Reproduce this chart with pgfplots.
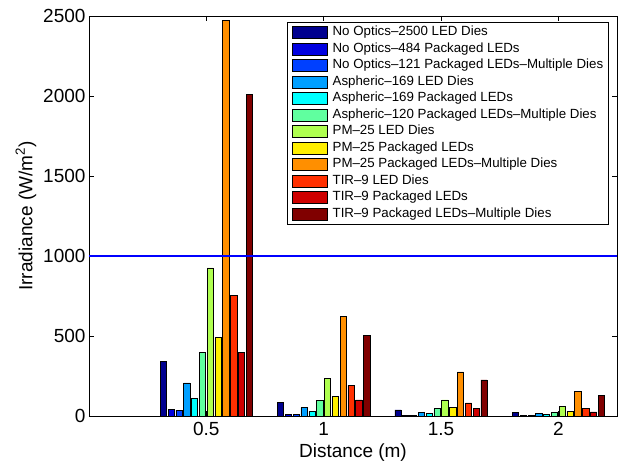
\documentclass[border=0pt]{standalone}
\usepackage{fontspec}
\setmainfont{Liberation Sans}
\usepackage{pgfplots}
\pgfplotsset{compat=1.18}
\definecolor{c1}{rgb}{0,0,0.5625}
\definecolor{c2}{rgb}{0,0,0.875}
\definecolor{c3}{rgb}{0,0.25,1}
\definecolor{c4}{rgb}{0,0.625,1}
\definecolor{c5}{rgb}{0,1,1}
\definecolor{c6}{rgb}{0.375,1,0.625}
\definecolor{c7}{rgb}{0.6875,1,0.3125}
\definecolor{c8}{rgb}{1,0.9375,0}
\definecolor{c9}{rgb}{1,0.5625,0}
\definecolor{c10}{rgb}{1,0.1875,0}
\definecolor{c11}{rgb}{0.8125,0,0}
\definecolor{c12}{rgb}{0.5,0,0}
\pgfplotsset{mybar/.style={fill=#1, draw=black, line width=0.6bp,
  legend image code/.code={\draw[fill=#1,draw=black,line width=0.6bp] (0bp,-5.8bp) rectangle (35bp,5.8bp); \path (39bp,0bp);}}}
\begin{document}
\begin{tikzpicture}
\begin{axis}[
  scale only axis, width=528bp, height=400bp,
  xmin=0, xmax=2.25, ymin=0, ymax=2500,
  ybar, bar width=0.026667,
  xtick={0.5,1,1.5,2}, ytick={0,500,1000,1500,2000,2500},
  xticklabels={0.5,1,1.5,2},
  scaled y ticks=false,
  /pgf/number format/1000 sep={},
  tick align=inside, major tick length=5bp,
  tick style={black, line width=0.6bp},
  axis line style={line width=0.8bp},
  /pgf/number format/assume math mode=true,
  ticklabel style={font=\fontsize{19bp}{22bp}\selectfont},
  xticklabel style={yshift=-3bp},
  label style={font=\fontsize{19bp}{22bp}\selectfont},
  xlabel={Distance (m)}, ylabel={Irradiance (W/m\textsuperscript{2})},
  xlabel style={yshift=-1bp},
  legend cell align=left,
  legend style={at={(1,1)}, anchor=north east, xshift=-8bp, yshift=-6bp,
    draw=black, line width=0.6bp, font=\fontsize{13.3bp}{16bp}\selectfont,
    row sep=0bp, inner xsep=4bp, inner ysep=2bp,
    nodes={inner sep=1.5bp, text height=10bp, text depth=3.5bp}},
]
\addplot[mybar=c1, bar shift=-0.183333] coordinates {(0.5,340) (1,85) (1.5,38) (2,22)};
\addplot[mybar=c2, bar shift=-0.15] coordinates {(0.5,42) (1,10) (1.5,3) (2,3)};
\addplot[mybar=c3, bar shift=-0.116667] coordinates {(0.5,36) (1,8) (1.5,3) (2,3)};
\addplot[mybar=c4, bar shift=-0.083333] coordinates {(0.5,207) (1,52) (1.5,20) (2,16)};
\addplot[mybar=c5, bar shift=-0.05] coordinates {(0.5,109) (1,27) (1.5,14) (2,10)};
\addplot[mybar=c6, bar shift=-0.016667] coordinates {(0.5,395) (1,98) (1.5,45) (2,24)};
\addplot[mybar=c7, bar shift=0.016667] coordinates {(0.5,925) (1,235) (1.5,101) (2,61)};
\addplot[mybar=c8, bar shift=0.05] coordinates {(0.5,490) (1,122) (1.5,52) (2,30)};
\addplot[mybar=c9, bar shift=0.083333] coordinates {(0.5,2470) (1,620) (1.5,275) (2,155)};
\addplot[mybar=c10, bar shift=0.116667] coordinates {(0.5,755) (1,191) (1.5,82) (2,47)};
\addplot[mybar=c11, bar shift=0.15] coordinates {(0.5,398) (1,100) (1.5,46) (2,25)};
\addplot[mybar=c12, bar shift=0.183333] coordinates {(0.5,2010) (1,506) (1.5,225) (2,130)};
\addplot[sharp plot, blue, line width=2.5bp, forget plot] coordinates {(0,1000) (2.25,1000)};
\legend{No Optics--2500 LED Dies, No Optics--484 Packaged LEDs, No Optics--121 Packaged LEDs--Multiple Dies, Aspheric--169 LED Dies, Aspheric--169 Packaged LEDs, Aspheric--120 Packaged LEDs--Multiple Dies, PM--25 LED Dies, PM--25 Packaged LEDs, PM--25 Packaged LEDs--Multiple Dies, TIR--9 LED Dies, TIR--9 Packaged LEDs, TIR--9 Packaged LEDs--Multiple Dies}
\coordinate (sw) at (rel axis cs:0,0);
\coordinate (ne) at (rel axis cs:1,1);
\end{axis}
\path (sw) ++(-89bp,-50bp) coordinate (bl);
\path (ne) ++(4bp,16bp) coordinate (tr);
\path (bl) rectangle (tr);
\end{tikzpicture}
\end{document}
